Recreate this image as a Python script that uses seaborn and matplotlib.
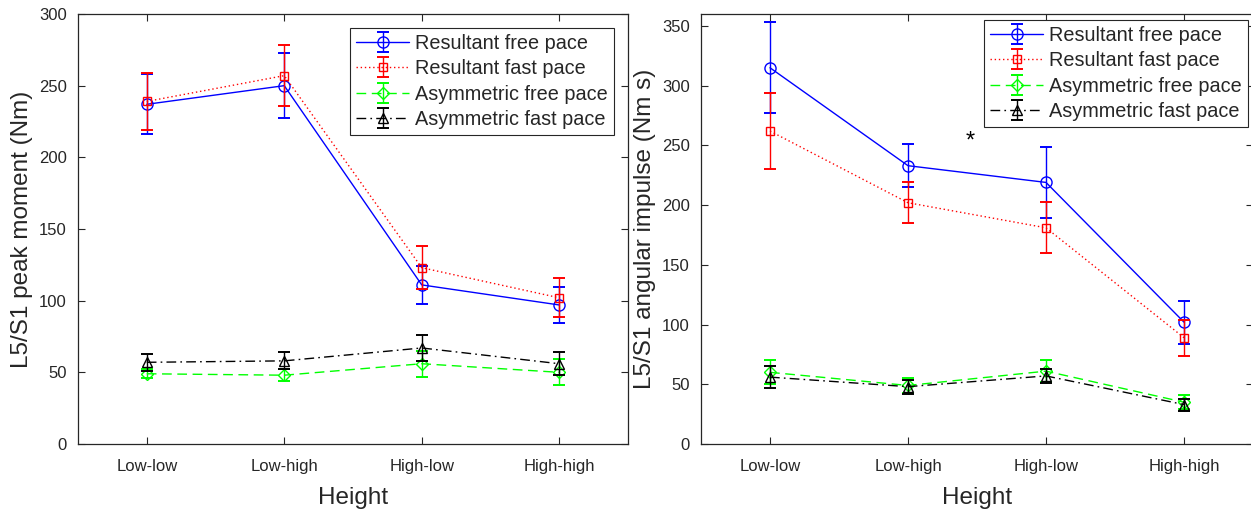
import numpy as np
import pandas as pd
import matplotlib
matplotlib.use("Agg")
import matplotlib.pyplot as plt
import seaborn as sns
from matplotlib.legend_handler import HandlerTuple

categories = ["Low-low", "Low-high", "High-low", "High-high"]
series_names = ["Resultant free pace", "Resultant fast pace",
                "Asymmetric free pace", "Asymmetric fast pace"]

# Left panel: L5/S1 peak moment (Nm)
peak_res_free = [237, 250, 111, 97]
peak_res_free_err = [21, 22.5, 13, 12.5]
peak_res_fast = [239, 257, 123, 102]
peak_res_fast_err = [20, 21.5, 15, 13.5]
peak_asym_free = [49, 48, 56, 50]
peak_asym_free_err = [3, 4, 9, 9]
peak_asym_fast = [57, 58, 67, 56]
peak_asym_fast_err = [6, 6, 9, 8]

# Right panel: L5/S1 angular impulse (Nm s)
imp_res_free = [315, 233, 219, 102]
imp_res_free_err = [38, 18, 30, 18]
imp_res_fast = [262, 202, 181, 89]
imp_res_fast_err = [32, 17, 21.5, 15]
imp_asym_free = [60, 49, 61, 35]
imp_asym_free_err = [10, 6, 9, 6]
imp_asym_fast = [56, 48, 57, 33]
imp_asym_fast_err = [9, 6, 6, 5]

star_pos = (2.45, 253)

colors = ["#0000ff", "#ff0000", "#00ff00", "#000000"]
linestyles = ["-", (0, (1, 2)), (0, (7, 4)), (0, (7, 3, 1.2, 3))]
markers = ["o", "s", "D", "^"]
msizes = [8, 6, 6, 7]

sns.set_style("white")
plt.rcParams["font.family"] = ["Liberation Sans", "DejaVu Sans"]
plt.rcParams.update({
    "xtick.direction": "in", "ytick.direction": "in",
    "xtick.top": True, "xtick.bottom": True,
    "ytick.left": True, "ytick.right": True,
})

fig = plt.figure(figsize=(12.51, 5.09), dpi=100)
axL = fig.add_axes([78/1251, 65/509, 550/1251, 430/509])
axR = fig.add_axes([701/1251, 65/509, 552/1251, 430/509])

dark = "#262626"
x = np.arange(1, 5)

def draw(ax, vals, errs, ylim, yticks, ylabel, legend_bbox):
    handles = []
    for i in range(4):
        df = pd.DataFrame({"x": x, "y": vals[i]})
        sns.lineplot(data=df, x="x", y="y", ax=ax, color=colors[i],
                     linestyle=linestyles[i], marker=markers[i],
                     markersize=msizes[i], markerfacecolor="none",
                     markeredgecolor=colors[i], markeredgewidth=1.0,
                     linewidth=1.0, legend=False, zorder=3 + i)
        line = ax.lines[-1]
        eb = ax.errorbar(x, vals[i], yerr=errs[i], fmt="none",
                         ecolor=colors[i], elinewidth=1.0, capsize=4.5,
                         capthick=1.4, zorder=3 + i)
        handles.append((line, eb))
    ax.set_xlim(0.5, 4.5)
    ax.set_ylim(*ylim)
    ax.set_yticks(yticks)
    ax.set_xticks(x)
    ax.set_xticklabels(categories)
    ax.set_xlabel("Height", fontsize=17.5, color=dark, labelpad=9)
    ax.set_ylabel(ylabel, fontsize=17.5, color=dark, labelpad=4)
    ax.tick_params(which="both", direction="in", length=5, width=0.8,
                   top=True, bottom=True, left=True, right=True,
                   labelsize=12, colors=dark, pad=8)
    ax.tick_params(axis="x", pad=11)
    for s in ax.spines.values():
        s.set_color(dark)
        s.set_linewidth(0.9)
    leg = ax.legend(handles, series_names, loc="upper right",
                    bbox_to_anchor=legend_bbox, bbox_transform=fig.transFigure,
                    fontsize=14.3,
                    handler_map={tuple: HandlerTuple(ndivide=1, pad=0)},
                    handlelength=2.7, labelspacing=0.32, borderpad=0.3,
                    handletextpad=0.3, borderaxespad=0, fancybox=False,
                    framealpha=1, edgecolor=dark)
    leg.get_frame().set_linewidth(0.8)

draw(axL,
     [peak_res_free, peak_res_fast, peak_asym_free, peak_asym_fast],
     [peak_res_free_err, peak_res_fast_err, peak_asym_free_err, peak_asym_fast_err],
     (0, 300), np.arange(0, 301, 50), "L5/S1 peak moment (Nm)",
     (614/1251, 1 - 28/509))
draw(axR,
     [imp_res_free, imp_res_fast, imp_asym_free, imp_asym_fast],
     [imp_res_free_err, imp_res_fast_err, imp_asym_free_err, imp_asym_fast_err],
     (0, 360), np.arange(0, 351, 50), "L5/S1 angular impulse (Nm s)",
     (1248/1251, 1 - 20/509))

axR.text(star_pos[0], star_pos[1], "*", fontsize=17, ha="center", va="center",
         color="black")

fig.savefig("out.png", dpi=100)
